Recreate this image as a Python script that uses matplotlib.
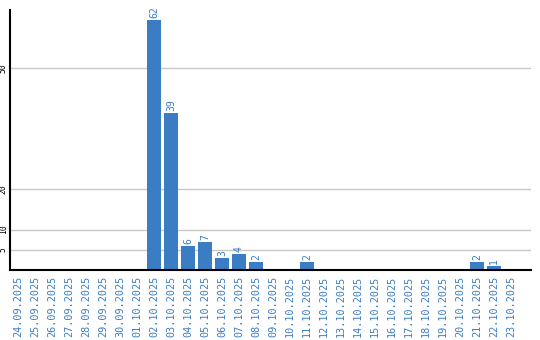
import matplotlib
matplotlib.use('Agg')
import matplotlib.pyplot as plt
import numpy as np

# ── Data ──────────────────────────────────────────────────────────────────────
dates = ['24.09.2025', '25.09.2025', '26.09.2025', '27.09.2025', '28.09.2025',
         '29.09.2025', '30.09.2025', '01.10.2025', '02.10.2025', '03.10.2025',
         '04.10.2025', '05.10.2025', '06.10.2025', '07.10.2025', '08.10.2025',
         '09.10.2025', '10.10.2025', '11.10.2025', '12.10.2025', '13.10.2025',
         '14.10.2025', '15.10.2025', '16.10.2025', '17.10.2025', '18.10.2025',
         '19.10.2025', '20.10.2025', '21.10.2025', '22.10.2025', '23.10.2025']
counts = [0, 0, 0, 0, 0, 0, 0, 0, 62, 39,
          6, 7, 3, 4, 2, 0, 0, 2, 0, 0,
          0, 0, 0, 0, 0, 0, 0, 2, 1, 0]
yticks = [5, 10, 20, 50]

BLUE = '#3a7dc3'
MONO = 'DejaVu Sans Mono'

# ── Layout ────────────────────────────────────────────────────────────────────
fig = plt.figure(figsize=(5.4, 3.4), dpi=100)
ax = fig.add_axes([0.0194, 0.206, 0.9639, 0.7646])

x = np.arange(len(dates))
ax.bar(x, counts, width=0.82, color=BLUE, zorder=3)

for xi, v in zip(x, counts):
    if v > 0:
        ax.text(xi, v + 0.4, str(v), rotation=90, ha='center', va='bottom',
                color=BLUE, fontsize=7, family=MONO, zorder=4)

ax.set_xlim(-0.44, 30.18)
ax.set_ylim(0, 64.4)

ax.set_yticks(yticks)
ax.set_yticklabels([str(t) for t in yticks], rotation=90, va='center',
                   fontsize=5.8, family=MONO)
ax.yaxis.grid(True, color='#c8c8c8', lw=1, zorder=0)
ax.set_xticks(x)
ax.set_xticklabels(dates, rotation=90, fontsize=7.3, family=MONO, color=BLUE)

ax.tick_params(axis='both', length=0)
ax.tick_params(axis='y', pad=2)
ax.tick_params(axis='x', pad=4)

for s in ('top', 'right'):
    ax.spines[s].set_visible(False)
for s in ('left', 'bottom'):
    ax.spines[s].set_linewidth(1.5)
    ax.spines[s].set_zorder(5)

fig.savefig('out.png', dpi=100)
